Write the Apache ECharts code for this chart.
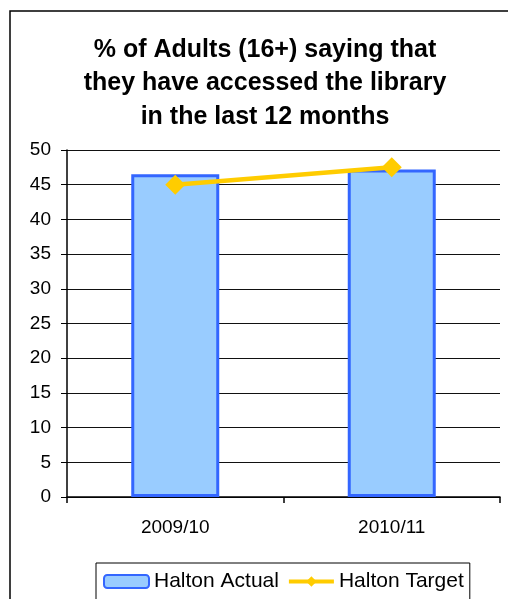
<!DOCTYPE html>
<html>
<head>
<meta charset="utf-8">
<script src="https://cdn.jsdelivr.net/npm/echarts@6/dist/echarts.min.js"></script>
<style>
  html, body { margin: 0; padding: 0; background: #fff; }
  #chart { width: 508px; height: 599px; }
</style>
</head>
<body>
<div id="chart"></div>
<script>
// Library access survey: actual vs target
const categories = ['2009/10', '2010/11'];
const actualValues = [46.5, 47.2];
const targetValues = [45.0, 47.5];
const yTicks = { min: 0, max: 50, interval: 5 };

const chart = echarts.init(document.getElementById('chart'));
const font = '"Liberation Sans", Arial, sans-serif';

chart.setOption({
  animation: false,
  backgroundColor: '#fff',
  title: {
    text: '% of Adults (16+) saying that\nthey have accessed the library\nin the last 12 months',
    left: 265,
    top: 33,
    padding: 0,
    textAlign: 'center',
    textStyle: {
      fontFamily: font,
      fontWeight: 'bold',
      fontSize: 25,
      lineHeight: 33.5,
      color: '#000'
    }
  },
  grid: { left: 67, right: 8, top: 150, bottom: 102, containLabel: false },
  xAxis: {
    type: 'category',
    data: categories,
    axisLine: { lineStyle: { color: '#000', width: 1.5 } },
    axisTick: { show: true, length: 6, lineStyle: { color: '#000', width: 1.5 } },
    axisLabel: { margin: 21, fontFamily: font, fontSize: 19, color: '#000' }
  },
  yAxis: {
    type: 'value',
    min: yTicks.min,
    max: yTicks.max,
    interval: yTicks.interval,
    axisLine: { show: true, lineStyle: { color: '#000', width: 1.5 } },
    axisTick: { show: true, length: 6, lineStyle: { color: '#000' } },
    axisLabel: { margin: 16, fontFamily: font, fontSize: 19, color: '#000' },
    splitLine: { show: true, lineStyle: { color: '#111', width: 1 } }
  },
  legend: {
    left: 96,
    top: 563,
    itemWidth: 45,
    itemHeight: 13,
    itemGap: 8,
    padding: [8, 6, 12, 7],
    borderColor: '#000',
    borderWidth: 1,
    lineStyle: { width: 4 },
    textStyle: { fontFamily: font, fontSize: 21, color: '#000' },
    data: ['Halton Actual', 'Halton Target']
  },
  graphic: [{
    type: 'rect',
    shape: { x: 10, y: 11, width: 530, height: 620 },
    style: { fill: 'none', stroke: '#000', lineWidth: 1.5 },
    silent: true,
    z: -1
  }],
  series: [
    {
      name: 'Halton Actual',
      type: 'bar',
      data: actualValues,
      barWidth: 88,
      itemStyle: { color: '#99CCFF', borderColor: '#3366FF', borderWidth: 3 }
    },
    {
      name: 'Halton Target',
      type: 'line',
      data: targetValues,
      symbol: 'diamond',
      symbolSize: 20,
      lineStyle: { color: '#FFCC00', width: 4.5 },
      itemStyle: { color: '#FFCC00' },
      z: 5
    }
  ]
});
</script>
</body>
</html>
